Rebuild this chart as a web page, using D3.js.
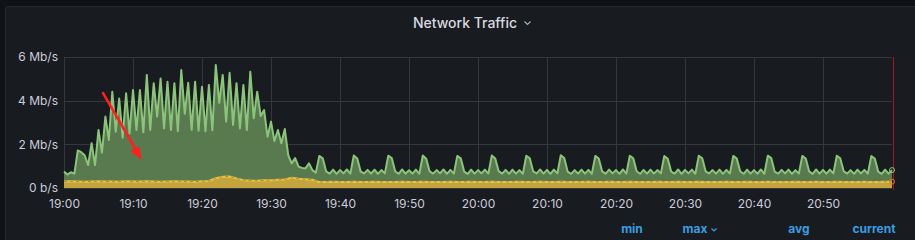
<!DOCTYPE html>
<html>
<head>
<meta charset="utf-8">
<script src="https://cdn.jsdelivr.net/npm/d3@7"></script>
<style>
  html, body { margin: 0; padding: 0; background: #111217; }
  svg { display: block; font-family: Inter, "Noto Sans", sans-serif; }
</style>
</head>
<body>
<svg id="chart" width="915" height="240"></svg>
<script>
/* globals d3 */
// series sampled every 30 s from 19:00, values in Mb/s
let trafficStart = new Date(2021, 0, 1, 19, 0)
let greenStep = 30     // seconds
let yellowStep = 60    // seconds

let greenValues = [
  0.75, 0.62, 0.72, 0.66, 1.72, 1.64, 1.50, 1.05, 2.05, 1.05,
  2.66, 1.62, 3.27, 2.20, 4.41, 2.58, 4.10, 2.30, 4.34, 2.50,
  4.49, 2.66, 4.49, 2.55, 5.18, 2.66, 4.80, 3.27, 5.02, 2.73,
  4.87, 2.66, 4.80, 2.60, 5.40, 3.40, 4.82, 2.66, 4.87, 2.62,
  4.64, 2.60, 4.72, 2.64, 5.63, 3.90, 5.18, 3.04, 5.28, 2.89,
  4.80, 2.73, 4.72, 2.66, 5.33, 3.19, 4.41, 3.30, 3.57, 2.35,
  3.04, 2.15, 2.66, 2.05, 2.70, 1.50, 1.13, 1.37, 0.98, 0.92,
  0.90, 1.13, 0.82, 0.70,
  // 19:37 onwards, a burst every five minutes
  1.47, 1.36, 0.76, 0.66, 0.84, 0.65, 0.82, 0.67, 0.85, 0.66,
  1.49, 1.35, 0.75, 0.67, 0.83, 0.66, 0.84, 0.65, 0.82, 0.67,
  1.48, 1.37, 0.77, 0.65, 0.85, 0.66, 0.81, 0.66, 0.84, 0.65,
  1.49, 1.34, 0.76, 0.66, 0.82, 0.67, 0.85, 0.65, 0.83, 0.66,
  1.47, 1.36, 0.75, 0.65, 0.84, 0.66, 0.82, 0.67, 0.84, 0.66,
  1.49, 1.35, 0.77, 0.66, 0.83, 0.65, 0.84, 0.66, 0.82, 0.65,
  1.48, 1.36, 0.76, 0.67, 0.85, 0.66, 0.83, 0.65, 0.84, 0.67,
  1.50, 1.37, 0.75, 0.65, 0.82, 0.66, 0.84, 0.66, 0.83, 0.65,
  1.47, 1.35, 0.76, 0.66, 0.84, 0.67, 0.82, 0.65, 0.85, 0.66,
  1.48, 1.36, 0.77, 0.65, 0.83, 0.66, 0.84, 0.66, 0.82, 0.67,
  1.47, 1.34, 0.75, 0.66, 0.85, 0.65, 0.83, 0.67, 0.84, 0.65,
  1.48, 1.36, 0.76, 0.67, 0.82, 0.66, 0.84, 0.65, 0.83, 0.66,
  1.47, 1.35, 0.77, 0.65, 0.84, 0.66, 0.82, 0.66, 0.85, 0.65,
  1.48, 1.37, 0.75, 0.66, 0.83, 0.67, 0.84, 0.65, 0.82, 0.66,
  1.47, 1.35, 0.76, 0.65, 0.85, 0.66, 0.83, 0.66, 0.84, 0.67,
  1.48, 1.36, 0.77, 0.66, 0.82, 0.65, 0.84, 0.67, 0.83, 0.66,
  1.46, 1.35, 0.75, 0.65, 0.84, 0.66, 0.82
]

let yellowValues = [
  0.30, 0.31, 0.30, 0.29, 0.30, 0.31, 0.30, 0.30, 0.29, 0.31,
  0.30, 0.30, 0.31, 0.30, 0.29, 0.30, 0.31, 0.30, 0.30, 0.29,
  0.31, 0.32, 0.45, 0.52, 0.53, 0.44, 0.36, 0.34, 0.33, 0.35,
  0.36, 0.38, 0.39, 0.47, 0.42, 0.40, 0.38, 0.27, 0.28, 0.29,
  0.28, 0.28, 0.29, 0.28, 0.28, 0.29, 0.28, 0.28, 0.28, 0.29,
  0.28, 0.28, 0.29, 0.28, 0.28, 0.28, 0.29, 0.28, 0.28, 0.29,
  0.28, 0.28, 0.29, 0.28, 0.28, 0.28, 0.29, 0.28, 0.28, 0.29,
  0.28, 0.28, 0.29, 0.28, 0.28, 0.28, 0.29, 0.28, 0.28, 0.29,
  0.28, 0.28, 0.29, 0.28, 0.28, 0.28, 0.29, 0.28, 0.28, 0.29,
  0.28, 0.28, 0.29, 0.28, 0.28, 0.28, 0.29, 0.28, 0.28, 0.29,
  0.28, 0.28, 0.29, 0.28, 0.28, 0.28, 0.29, 0.28, 0.28, 0.29,
  0.28, 0.28, 0.29, 0.28, 0.28, 0.28, 0.29, 0.28, 0.28, 0.29,
  0.29
]

let yTicks = [0, 2, 4, 6]
let yTickLabels = ['0 b/s', '2 Mb/s', '4 Mb/s', '6 Mb/s']
let legendLabels = ['min', 'max', 'avg', 'current']

let toPoints = (values, step) => values.map((v, i) => ({
  t: new Date(trafficStart.getTime() + i * step * 1000), v
}))
let green = toPoints(greenValues, greenStep)
let yellow = toPoints(yellowValues, yellowStep)

let svg = d3.select('#chart')
let plotLeft = 64, plotRight = 892, plotTop = 57, plotBottom = 188

// panel
svg.append('rect')
  .attr('x', 5.5).attr('y', 6.5).attr('width', 930).attr('height', 260)
  .attr('rx', 2)
  .attr('fill', '#181b1f')
  .attr('stroke', '#25282d')

svg.append('text')
  .attr('x', 465).attr('y', 28)
  .attr('text-anchor', 'middle')
  .attr('fill', '#d8d9e0')
  .attr('font-size', 14)
  .attr('font-weight', 500)
  .text('Network Traffic')
svg.append('path')
  .attr('d', 'M524.5,21.5 l3,3 l3,-3')
  .attr('fill', 'none')
  .attr('stroke', '#aeb0b8')
  .attr('stroke-width', 1.1)

let x = d3.scaleTime()
  .domain([trafficStart, new Date(trafficStart.getTime() + 120 * 60000)])
  .range([plotLeft, plotRight])
let y = d3.scaleLinear().domain([0, 6]).range([plotBottom, plotTop])

// grid (no tick at the right edge, the cursor sits there)
let xTicks = x.ticks(d3.timeMinute.every(10)).slice(0, -1)
let grid = svg.append('g')
grid.selectAll('line.h')
  .data(yTicks)
  .join('line')
  .attr('class', 'h')
  .attr('x1', plotLeft).attr('x2', plotRight)
  .attr('y1', d => Math.round(y(d)) + 0.5)
  .attr('y2', d => Math.round(y(d)) + 0.5)
  .attr('stroke', '#34373c')
grid.selectAll('line.v')
  .data(xTicks)
  .join('line')
  .attr('class', 'v')
  .attr('x1', d => Math.round(x(d)) + 0.5)
  .attr('x2', d => Math.round(x(d)) + 0.5)
  .attr('y1', plotTop).attr('y2', plotBottom)
  .attr('stroke', '#34373c')

// series
let area = d3.area().x(d => x(d.t)).y0(y(0)).y1(d => y(d.v))
let line = d3.line().x(d => x(d.t)).y(d => y(d.v))
svg.append('path').datum(green).attr('d', area).attr('fill', '#587a4e')
svg.append('path').datum(yellow).attr('d', area).attr('fill', '#c4a43e')
svg.append('path').datum(green).attr('d', line)
  .attr('fill', 'none').attr('stroke', '#8cc47c').attr('stroke-width', 2)
  .attr('stroke-linejoin', 'round')
svg.append('path').datum(yellow).attr('d', line)
  .attr('fill', 'none').attr('stroke', '#e9c446').attr('stroke-width', 2)
  .attr('stroke-linejoin', 'round')
svg.append('path').datum(yellow).attr('d', line)
  .attr('fill', 'none').attr('stroke', '#b08a2c').attr('stroke-width', 1)
  .attr('stroke-dasharray', '3,3')

// cursor marker at the right edge
svg.append('line')
  .attr('x1', 893.5).attr('x2', 893.5).attr('y1', plotTop).attr('y2', plotBottom + 2)
  .attr('stroke', '#a3161a').attr('stroke-width', 1)
let last = [green[green.length - 1], yellow[yellow.length - 1]]
svg.selectAll('circle.end')
  .data(last)
  .join('circle')
  .attr('class', 'end')
  .attr('cx', d => x(d.t)).attr('cy', d => y(d.v)).attr('r', 2.5)
  .attr('fill', 'none')
  .attr('stroke', (d, i) => i ? '#e0762c' : '#8cc47c')
  .attr('stroke-width', 1)

// axes
let yAxis = svg.append('g')
  .attr('transform', `translate(${plotLeft},0)`)
  .call(d3.axisLeft(y).tickValues(yTicks).tickSize(0).tickPadding(6)
    .tickFormat((d, i) => yTickLabels[i]))
let xAxis = svg.append('g')
  .attr('transform', `translate(0,${plotBottom})`)
  .call(d3.axisBottom(x).tickValues(xTicks).tickSize(0).tickPadding(11)
    .tickFormat(d3.timeFormat('%H:%M')))
for (let g of [yAxis, xAxis]) {
  g.select('.domain').remove()
  g.selectAll('text')
    .attr('fill', '#ccccdc')
    .attr('font-size', 12)
    .attr('font-family', 'Inter, sans-serif')
}

// legend header
let legendX = [632, 695, 799, 874]
svg.append('g').selectAll('text')
  .data(legendLabels)
  .join('text')
  .attr('x', (d, i) => legendX[i])
  .attr('y', 233)
  .attr('text-anchor', 'middle')
  .attr('fill', '#3a9ee2')
  .attr('font-size', 12)
  .attr('font-weight', 700)
  .text(d => d)
svg.append('path')
  .attr('d', 'M711.5,228.5 l2.5,2.5 l2.5,-2.5')
  .attr('fill', 'none')
  .attr('stroke', '#3a9ee2')
  .attr('stroke-width', 1.2)

// red annotation arrow
let arrow = svg.append('g').attr('fill', '#ff1f1f').attr('stroke', '#ff1f1f')
arrow.append('line')
  .attr('x1', 103).attr('y1', 93).attr('x2', 136).attr('y2', 150)
  .attr('stroke-width', 2.5).attr('stroke-linecap', 'round')
arrow.append('path')
  .attr('d', 'M141,159 L131,151 L139,147 Z')
  .attr('stroke-width', 1)
</script>
</body>
</html>
